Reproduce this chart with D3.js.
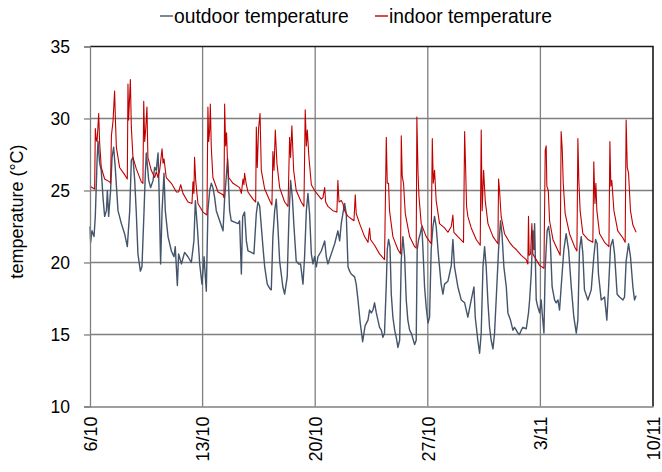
<!DOCTYPE html>
<html>
<head>
<meta charset="utf-8">
<script src="https://cdn.jsdelivr.net/npm/d3@7"></script>
<style>
  body { margin: 0; background: #fff; }
  svg { font-family: "Liberation Sans", Arial, sans-serif; }
</style>
</head>
<body>
<div id="container"></div>
<script>
/* CONSTANTS AND GLOBALS */
const width = 662;
const height = 472;
const margin = { top: 46.5, right: 9, bottom: 65.5, left: 90 };

/* DATA (x = days after 6/10 00:00, y = temperature in °C) */
const xTickDays = [0, 7, 14, 21, 28, 35];
const xTickLabels = ["6/10", "13/10", "20/10", "27/10", "3/11", "10/11"];
const yTicks = [10, 15, 20, 25, 30, 35];
const seriesNames = ["outdoor temperature", "indoor temperature"];
const seriesColors = ["#44546A", "#C00000"];

const outdoor = [
  [0.0,22.5],[0.04,21.4],[0.12,22.2],[0.25,21.8],[0.33,23.2],[0.44,27.1],[0.50,28.4],[0.60,26.9],[0.70,26.4],[0.81,24.5],
  [0.91,23.2],[1.02,23.6],[1.08,25.0],[1.16,23.2],[1.28,25.0],[1.37,27.3],[1.47,28.0],[1.57,26.6],[1.74,23.6],[1.95,22.7],
  [2.15,22.0],[2.32,21.1],[2.47,23.6],[2.57,27.1],[2.67,27.3],[2.78,25.7],[2.88,23.4],[2.98,20.6],[3.13,19.4],[3.23,19.7],
  [3.36,23.6],[3.44,26.2],[3.50,27.6],[3.54,27.1],[3.65,25.7],[3.77,25.2],[3.92,25.7],[4.02,26.6],[4.12,26.4],[4.23,27.6],
  [4.29,25.2],[4.39,19.9],[4.48,23.6],[4.60,26.2],[4.68,23.6],[4.85,21.8],[5.06,20.8],[5.22,20.4],[5.30,21.1],[5.43,18.4],
  [5.51,20.6],[5.68,19.9],[5.88,20.7],[6.09,20.4],[6.30,20.0],[6.46,21.5],[6.55,24.3],[6.67,22.5],[6.82,19.9],[6.96,18.5],
  [7.09,20.4],[7.23,18.0],[7.33,23.6],[7.44,25.0],[7.54,25.5],[7.64,25.2],[7.75,24.5],[7.85,23.6],[8.06,22.9],[8.27,22.2],
  [8.37,24.5],[8.47,25.9],[8.55,27.2],[8.68,23.6],[8.78,22.9],[8.99,22.8],[9.20,22.7],[9.30,22.9],[9.41,19.2],[9.49,23.2],
  [9.61,23.5],[9.72,21.5],[9.82,20.8],[10.03,20.7],[10.19,20.6],[10.34,23.4],[10.44,24.2],[10.55,23.9],[10.65,22.5],[10.75,21.1],
  [10.86,19.7],[11.02,18.5],[11.17,18.2],[11.27,18.1],[11.37,21.8],[11.48,23.6],[11.58,24.4],[11.68,22.5],[11.79,20.1],[11.99,18.3],
  [12.10,17.8],[12.26,19.0],[12.37,23.2],[12.47,25.7],[12.58,24.5],[12.68,22.5],[12.82,20.1],[12.97,19.9],[13.09,19.9],[13.24,18.5],
  [13.34,20.4],[13.45,23.6],[13.55,24.8],[13.65,23.4],[13.76,20.6],[13.86,19.9],[13.96,20.4],[14.07,19.7],[14.17,20.4],[14.38,20.8],
  [14.59,21.5],[14.69,20.4],[14.79,19.9],[15.00,20.6],[15.21,21.3],[15.41,22.2],[15.52,21.5],[15.62,22.7],[15.72,23.4],[15.83,24.1],
  [15.93,23.4],[16.04,19.7],[16.14,19.4],[16.24,19.2],[16.45,19.0],[16.55,18.5],[16.66,17.4],[16.80,15.8],[16.95,14.5],[17.10,15.6],
  [17.28,16.0],[17.38,16.7],[17.49,16.5],[17.59,16.7],[17.69,17.2],[17.80,16.5],[17.90,16.0],[18.00,15.5],[18.11,15.3],[18.21,14.8],
  [18.31,15.1],[18.42,18.5],[18.48,20.9],[18.56,21.6],[18.65,21.1],[18.73,17.8],[18.83,16.2],[18.94,15.3],[19.04,14.8],[19.14,14.1],
  [19.25,14.6],[19.35,20.2],[19.45,21.8],[19.56,20.4],[19.66,17.4],[19.76,16.0],[19.87,15.3],[19.97,15.1],[20.18,14.3],[20.28,14.6],
  [20.34,20.9],[20.43,21.6],[20.53,22.0],[20.63,22.5],[20.70,20.9],[20.80,18.3],[20.90,16.9],[21.01,15.8],[21.11,16.2],[21.21,20.9],
  [21.32,22.5],[21.42,23.2],[21.52,22.5],[21.67,20.4],[21.83,18.5],[21.94,17.8],[22.04,18.5],[22.25,18.7],[22.35,19.2],[22.46,19.8],
  [22.56,21.6],[22.66,19.7],[22.87,18.3],[23.08,17.4],[23.29,17.2],[23.49,16.2],[23.70,17.4],[23.87,18.3],[23.95,16.2],[24.11,14.6],
  [24.22,13.7],[24.32,15.1],[24.43,19.7],[24.53,21.1],[24.63,19.7],[24.74,17.2],[24.84,15.5],[24.94,14.6],[25.05,14.0],[25.15,15.1],
  [25.25,17.4],[25.40,20.9],[25.52,22.9],[25.61,22.0],[25.73,19.7],[25.88,18.3],[25.98,16.5],[26.14,16.0],[26.29,15.3],[26.39,15.5],
  [26.50,15.3],[26.60,15.1],[26.70,15.0],[26.81,15.3],[26.91,15.5],[27.12,15.4],[27.26,16.5],[27.33,17.4],[27.43,19.2],[27.53,22.2],
  [27.59,20.9],[27.64,22.7],[27.74,17.4],[27.84,16.9],[27.95,16.5],[28.05,17.4],[28.11,16.5],[28.22,15.1],[28.30,19.7],[28.42,22.2],
  [28.51,22.5],[28.61,21.6],[28.73,18.3],[28.88,17.4],[28.98,17.2],[29.09,17.4],[29.19,16.7],[29.29,18.3],[29.46,20.9],[29.60,22.0],
  [29.75,20.9],[29.92,18.3],[30.08,16.2],[30.23,15.1],[30.33,16.0],[30.43,20.9],[30.54,21.8],[30.64,20.6],[30.74,18.1],[30.95,17.4],
  [31.16,18.1],[31.32,20.4],[31.43,21.6],[31.53,21.3],[31.61,19.2],[31.78,17.4],[31.99,17.6],[32.13,16.0],[32.24,18.3],[32.36,21.1],
  [32.50,21.6],[32.61,20.6],[32.77,17.8],[32.92,17.6],[33.13,17.4],[33.23,17.6],[33.33,20.1],[33.48,21.3],[33.60,20.4],[33.75,18.3],
  [33.85,17.4],[33.95,17.7]
];

const indoor = [
  [0.0,25.3],[0.29,25.1],[0.33,29.3],[0.39,28.5],[0.44,28.4],[0.54,30.35],[0.60,28.3],[0.70,26.6],[0.91,25.8],[1.22,25.6],
  [1.28,25.5],[1.33,28.8],[1.43,29.8],[1.53,31.9],[1.58,29.9],[1.64,28.0],[1.84,26.6],[2.15,26.1],[2.32,25.8],[2.36,32.4],
  [2.40,29.9],[2.51,32.7],[2.57,29.4],[2.67,27.3],[2.88,26.5],[3.19,25.6],[3.29,25.5],[3.34,31.2],[3.40,28.4],[3.46,29.2],
  [3.54,30.8],[3.60,27.3],[3.81,26.4],[4.02,25.9],[4.12,26.3],[4.23,25.9],[4.33,26.4],[4.48,27.9],[4.54,26.9],[4.60,27.2],
  [4.74,25.9],[5.06,25.5],[5.37,24.9],[5.51,24.9],[5.64,25.4],[5.78,24.8],[6.09,24.2],[6.34,24.1],[6.40,25.6],[6.46,24.8],
  [6.50,27.3],[6.57,25.7],[6.71,24.1],[7.02,23.5],[7.27,23.3],[7.33,30.8],[7.38,28.4],[7.44,29.2],[7.48,31.0],[7.54,28.0],
  [7.64,25.9],[7.96,24.9],[8.27,24.7],[8.33,24.5],[8.37,31.0],[8.43,28.1],[8.49,29.0],[8.54,27.3],[8.62,25.9],[8.89,25.5],
  [9.30,25.2],[9.41,24.8],[9.51,25.8],[9.57,25.4],[9.61,26.2],[9.72,25.4],[9.82,24.9],[10.13,24.4],[10.30,24.2],[10.34,29.4],
  [10.40,26.6],[10.48,29.3],[10.57,30.35],[10.65,26.4],[10.86,25.1],[11.17,24.3],[11.31,24.0],[11.37,27.7],[11.44,26.4],[11.52,29.2],
  [11.62,26.9],[11.79,25.2],[12.10,24.2],[12.31,23.9],[12.41,28.7],[12.47,27.3],[12.55,29.5],[12.66,26.4],[12.82,25.0],[13.13,24.2],
  [13.30,23.9],[13.38,30.6],[13.45,28.1],[13.51,29.2],[13.61,27.3],[13.76,25.4],[13.96,25.0],[14.17,24.7],[14.38,24.4],[14.48,24.5],
  [14.59,25.2],[14.65,24.2],[14.79,23.9],[15.10,23.6],[15.35,23.5],[15.41,25.7],[15.48,24.2],[15.62,24.3],[15.72,24.1],[15.83,23.6],
  [16.04,23.2],[16.41,22.9],[16.49,24.7],[16.55,23.4],[16.76,22.7],[17.07,21.8],[17.28,21.4],[17.38,22.4],[17.44,21.6],[17.69,21.2],
  [18.00,20.6],[18.31,20.2],[18.42,28.7],[18.48,25.5],[18.56,25.5],[18.62,23.6],[18.83,21.8],[19.14,20.9],[19.31,20.6],[19.35,28.8],
  [19.41,26.0],[19.49,25.5],[19.60,23.4],[19.87,21.8],[20.18,21.1],[20.28,21.0],[20.32,30.1],[20.39,26.3],[20.45,24.6],[20.59,22.7],
  [20.90,21.8],[21.21,21.3],[21.28,28.6],[21.34,25.5],[21.42,26.4],[21.52,24.3],[21.73,22.7],[22.04,22.4],[22.25,22.1],[22.46,22.5],
  [22.56,23.3],[22.62,22.1],[22.87,21.8],[23.22,21.4],[23.29,29.1],[23.35,26.6],[23.41,23.9],[23.49,23.2],[23.70,22.4],[24.01,21.6],
  [24.26,21.2],[24.32,29.2],[24.38,23.6],[24.47,26.4],[24.57,24.3],[24.74,22.7],[25.05,21.8],[25.36,21.3],[25.40,25.8],[25.46,25.0],
  [25.56,23.2],[25.77,22.0],[26.08,21.4],[26.29,21.1],[26.50,20.9],[26.81,20.5],[27.12,20.2],[27.22,19.9],[27.26,23.2],[27.30,20.5],
  [27.39,20.6],[27.47,22.7],[27.53,20.6],[27.74,20.2],[27.95,19.8],[28.22,19.6],[28.30,27.8],[28.36,28.1],[28.40,25.3],[28.49,25.0],
  [28.57,22.9],[28.78,21.6],[28.98,21.1],[29.23,20.5],[29.29,29.1],[29.36,27.8],[29.42,25.5],[29.54,23.4],[29.81,22.0],[30.12,21.1],
  [30.27,20.8],[30.33,28.6],[30.39,25.7],[30.47,23.6],[30.64,22.0],[30.95,21.6],[31.26,21.4],[31.32,27.0],[31.39,24.1],[31.45,25.5],
  [31.51,23.6],[31.68,22.0],[31.99,21.4],[32.26,21.1],[32.32,28.4],[32.38,25.3],[32.44,25.7],[32.57,23.6],[32.81,22.2],[33.13,21.7],
  [33.27,21.4],[33.33,29.9],[33.40,26.6],[33.48,26.2],[33.60,23.6],[33.75,22.6],[33.95,22.1]
];

/* SCALES */
const xScale = d3.scaleLinear()
  .domain([0, 35])
  .range([margin.left, width - margin.right]);

const yScale = d3.scaleLinear()
  .domain([10, 35])
  .range([height - margin.bottom, margin.top]);

/* SVG */
const svg = d3.select("#container")
  .append("svg")
  .attr("width", width)
  .attr("height", height);

// horizontal gridlines
svg.append("g")
  .selectAll("line")
  .data(yTicks.slice(1, -1))
  .join("line")
  .attr("x1", margin.left)
  .attr("x2", width - margin.right)
  .attr("y1", d => yScale(d))
  .attr("y2", d => yScale(d))
  .attr("stroke", "#7f7f7f")
  .attr("stroke-width", 1.3);

// vertical gridlines
svg.append("g")
  .selectAll("line")
  .data(xTickDays.slice(1, -1))
  .join("line")
  .attr("x1", d => xScale(d))
  .attr("x2", d => xScale(d))
  .attr("y1", margin.top)
  .attr("y2", height - margin.bottom)
  .attr("stroke", "#7f7f7f")
  .attr("stroke-width", 1.3);

// top and right border
svg.append("path")
  .attr("d", `M${margin.left},${margin.top}H${width - margin.right}V${height - margin.bottom}`)
  .attr("fill", "none")
  .attr("stroke", "#1a1a1a")
  .attr("stroke-width", 1.6);

// lines
const line = d3.line()
  .x(d => xScale(d[0]))
  .y(d => yScale(d[1]));

svg.append("path")
  .datum(outdoor)
  .attr("d", line)
  .attr("fill", "none")
  .attr("stroke", seriesColors[0])
  .attr("stroke-width", 1.4)
  .attr("stroke-linejoin", "round");

svg.append("path")
  .datum(indoor)
  .attr("d", line)
  .attr("fill", "none")
  .attr("stroke", seriesColors[1])
  .attr("stroke-width", 1.1)
  .attr("stroke-linejoin", "round");

// y axis
const yAxis = d3.axisLeft(yScale)
  .tickValues(yTicks)
  .tickSize(6)
  .tickPadding(14);

svg.append("g")
  .attr("transform", `translate(${margin.left}, 0)`)
  .call(yAxis)
  .call(g => g.select(".domain").attr("stroke", "#7f7f7f").attr("stroke-width", 1.3))
  .call(g => g.selectAll(".tick line").attr("stroke", "#7f7f7f").attr("stroke-width", 1.3))
  .call(g => g.selectAll("text")
    .attr("fill", "#000")
    .style("font-size", "17.5px")
    .style("font-family", "'Liberation Sans', Arial, sans-serif"));

// x axis
const xAxis = d3.axisBottom(xScale)
  .tickValues(xTickDays)
  .tickFormat((d, i) => xTickLabels[i])
  .tickSize(0)
  .tickSizeOuter(0);

svg.append("g")
  .attr("transform", `translate(0, ${height - margin.bottom})`)
  .call(xAxis)
  .call(g => g.select(".domain").attr("stroke", "#7f7f7f").attr("stroke-width", 1.3))
  .call(g => g.selectAll("text")
    .attr("fill", "#000")
    .attr("transform", "rotate(-90)")
    .attr("text-anchor", "end")
    .attr("x", -10)
    .attr("y", 0)
    .attr("dy", "0.35em")
    .style("font-size", "18px")
    .style("font-family", "'Liberation Sans', Arial, sans-serif"));

// y axis title
svg.append("text")
  .attr("transform", `translate(23, ${(margin.top + height - margin.bottom) / 2 - 15}) rotate(-90)`)
  .attr("text-anchor", "middle")
  .style("font-size", "18px")
  .text("temperature (°C)");

// legend
const legendX = [160, 375];
const legend = svg.append("g")
  .selectAll("g")
  .data(seriesNames)
  .join("g")
  .attr("transform", (d, i) => `translate(${legendX[i]}, 16)`);

legend.append("line")
  .attr("x1", 0)
  .attr("x2", 13)
  .attr("stroke", (d, i) => seriesColors[i])
  .attr("stroke-width", 1.4);

legend.append("text")
  .attr("x", 14)
  .attr("y", 7)
  .style("font-size", "19.3px")
  .text(d => d);
</script>
</body>
</html>
